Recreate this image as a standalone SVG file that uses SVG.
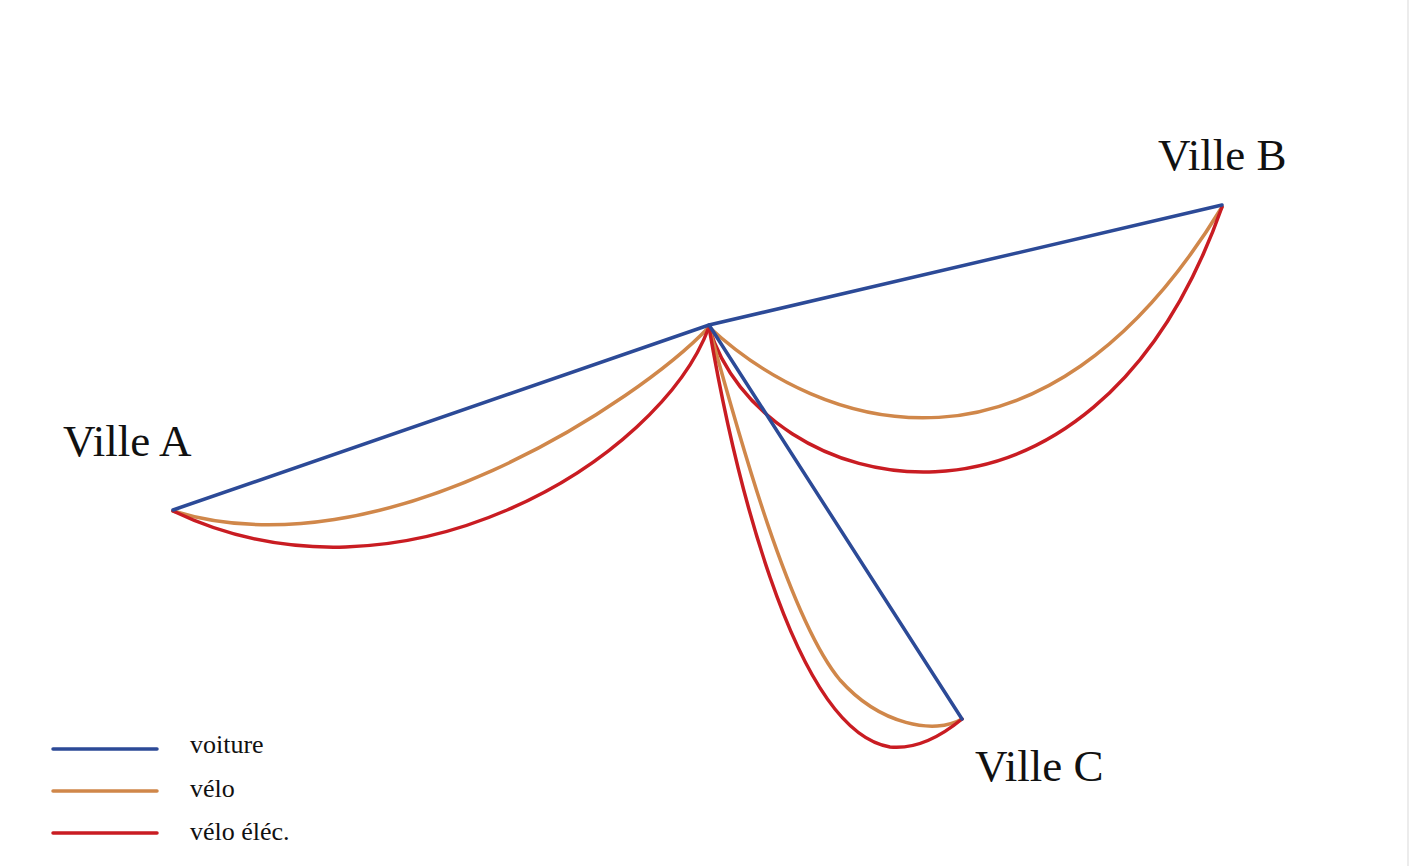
<svg xmlns="http://www.w3.org/2000/svg" width="1409" height="866" viewBox="0 0 1409 866">
<style>
.car{fill:none;stroke:#2c4a97;stroke-width:3.5;stroke-linecap:round}
.bike{fill:none;stroke:#d0874a;stroke-width:3.5;stroke-linecap:round}
.ebike{fill:none;stroke:#c91c22;stroke-width:3.5;stroke-linecap:round}
.city{font-family:"Liberation Serif",serif;font-size:45px;fill:#111}
.leg{font-family:"Liberation Serif",serif;font-size:26px;fill:#111}
</style>
<rect width="1409" height="866" fill="#fff"/>
<rect x="1407" y="0" width="2" height="866" fill="#ececec"/>
<g id="connectors">
<path class="bike" d="M709,327 C640,400 380,575 173,511"/>
<path class="ebike" d="M709,327 C660,460 400,620 173,511"/>
<path class="bike" d="M709,327 C820,430 1040,505 1222,207"/>
<path class="ebike" d="M709,327 C760,500 1090,580 1222,207"/>
<path class="bike" d="M709,327 C740,440 790,620 840,680 C880,725 935,735 962,719"/>
<path class="ebike" d="M709,327 C730,450 790,730 890,747 C920,750 945,733 962,719"/>
<path class="car" d="M173,510 L709,325 L1222,205"/>
<path class="car" d="M709,325 L962,719"/>
</g>
<g id="ville-a"><text class="city" x="63" y="456">Ville A</text></g>
<g id="ville-b"><text class="city" x="1158" y="170">Ville B</text></g>
<g id="ville-c"><text class="city" x="975" y="781">Ville C</text></g>
<g id="legend">
<line class="car" x1="53" y1="749" x2="157" y2="749" stroke-linecap="butt"/>
<line class="bike" x1="53" y1="791" x2="157" y2="791" stroke-linecap="butt"/>
<line class="ebike" x1="53" y1="833" x2="157" y2="833" stroke-linecap="butt"/>
<text class="leg" x="190" y="753">voiture</text>
<text class="leg" x="190" y="797">vélo</text>
<text class="leg" x="190" y="840">vélo éléc.</text>
</g>
</svg>
